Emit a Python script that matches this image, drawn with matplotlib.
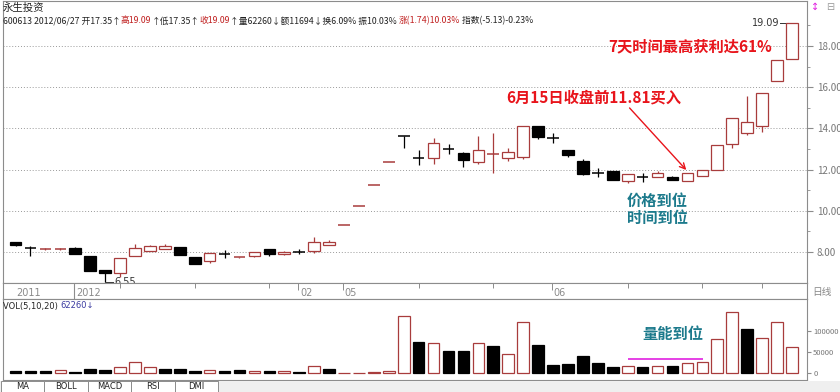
import matplotlib
matplotlib.use('Agg')
import matplotlib.pyplot as plt
from matplotlib.patches import Rectangle
import numpy as np

plt.rcParams['font.family'] = ['Noto Sans CJK SC', 'DejaVu Sans']

# daily candles, 600613 永生投资
opens = [8.48, 8.21, 8.12, 8.13, 8.21, 7.81, 7.11, 6.96, 7.82, 8.05,
         8.15, 8.24, 7.76, 7.58, 7.90, 7.73, 7.79, 8.15, 7.90, 8.01,
         8.06, 8.33, 9.30, 10.23, 11.25, 12.38, 13.62, 12.56, 12.55, 12.99,
         12.81, 12.39, 12.76, 12.55, 12.63, 14.09, 13.56, 12.95, 12.43, 11.86,
         11.93, 11.45, 11.62, 11.66, 11.66, 11.46, 11.70, 11.98, 13.24, 13.76,
         14.12, 16.32, 17.35]
highs = [8.50, 8.30, 8.17, 8.18, 8.22, 7.82, 7.11, 7.69, 8.37, 8.33,
         8.39, 8.26, 7.77, 7.94, 8.10, 7.75, 8.00, 8.16, 8.03, 8.13,
         8.71, 8.58, 9.30, 10.23, 11.25, 12.38, 13.62, 12.95, 13.52, 13.24,
         12.87, 13.63, 13.76, 13.03, 14.12, 14.09, 13.76, 12.95, 12.50, 12.06,
         11.93, 11.78, 11.82, 11.95, 11.68, 11.84, 11.99, 13.19, 14.49, 15.57,
         15.73, 17.32, 19.09]
lows = [8.30, 7.82, 8.10, 8.12, 7.89, 7.07, 6.55, 6.80, 7.80, 8.03,
        8.14, 7.84, 7.42, 7.45, 7.72, 7.70, 7.78, 7.82, 7.84, 7.90,
        7.94, 8.32, 9.30, 10.23, 11.25, 12.38, 13.03, 12.22, 12.27, 12.76,
        12.14, 12.26, 11.82, 12.42, 12.53, 13.47, 13.30, 12.63, 11.72, 11.65,
        11.48, 11.33, 11.41, 11.66, 11.48, 11.44, 11.70, 11.98, 13.03, 13.68,
        13.84, 16.32, 17.35]
closes = [8.33, 8.20, 8.14, 8.15, 7.90, 7.08, 7.00, 7.69, 8.18, 8.31,
          8.29, 7.85, 7.43, 7.94, 7.89, 7.75, 7.99, 7.92, 8.00, 8.00,
          8.47, 8.49, 9.30, 10.23, 11.25, 12.38, 13.60, 12.55, 13.28, 12.98,
          12.47, 12.95, 12.76, 12.86, 14.12, 13.60, 13.55, 12.69, 11.79, 11.85,
          11.50, 11.77, 11.61, 11.85, 11.50, 11.81, 11.98, 13.18, 14.49, 14.33,
          15.73, 17.30, 19.09]
volumes = [5500, 6400, 6400, 8000, 3200, 9500, 8700, 16000, 28000, 16000,
           9500, 9500, 6400, 8000, 6400, 8000, 5600, 6400, 5600, 3200,
           17500, 10300, 1600, 1600, 2400, 5600, 137000, 74000, 71000, 53000,
           52000, 71000, 64000, 45000, 123000, 67000, 20000, 21000, 40000, 25000,
           16000, 18000, 16000, 18000, 18000, 24000, 26000, 82000, 147000, 105000,
           83000, 123000, 62260]
vol_up = [0, 0, 0, 1, 0, 0, 0, 1, 1, 1,
          0, 0, 0, 1, 0, 0, 1, 0, 1, 0,
          1, 0, 1, 1, 1, 1, 1, 0, 1, 0,
          0, 1, 0, 1, 1, 0, 0, 0, 0, 0,
          0, 1, 0, 1, 0, 1, 1, 1, 1, 0,
          1, 1, 1]
date_labels = {0: '2011', 4: '2012', 19: '02', 22: '05', 36: '06'}
date_ticks = [7, 12, 17, 27, 32, 41, 46, 50]
price_ticks = [8, 10, 12, 14, 16, 18]
vol_ticks = [0, 50000, 100000]

W, H = 840, 392
RED = '#a83c3c'
ANN = '#e8141b'
TEAL = '#1c7a8c'
GRID = '#9a9a9a'
FRAME = '#8c8c8c'


def rect(x0, y0, x1, y1):
    # pixel box (top-left origin) -> figure fraction
    return [x0 / W, 1 - y1 / H, (x1 - x0) / W, (y1 - y0) / H]


fig = plt.figure(figsize=(8.4, 3.92), dpi=100)
fig.patch.set_facecolor('white')

n = len(opens)
xs = np.arange(n)
xlim = (-0.84, 53.01)
bw = 0.78

# ---- main price panel
ax = fig.add_axes(rect(3, 1, 807, 283))
ax.set_xlim(*xlim)
ax.set_ylim(6.495, 20.18)
for y in price_ticks:
    ax.axhline(y, color=GRID, lw=0.7, ls=(0, (1, 2)), zorder=0)

for i in xs:
    o, h, l, c = opens[i], highs[i], lows[i], closes[i]
    up = c >= o
    col = RED if up else 'black'
    ax.vlines(i, l, h, color=col, lw=0.9, zorder=2)
    if abs(c - o) < 0.03:
        ax.hlines((o + c) / 2, i - bw / 2, i + bw / 2, color=col, lw=1.1, zorder=3)
    else:
        ax.add_patch(Rectangle((i - bw / 2, min(o, c)), bw, abs(c - o),
                               facecolor='white' if up else 'black',
                               edgecolor=col, lw=0.9, zorder=3))

ax.yaxis.tick_right()
ax.set_yticks(price_ticks)
ax.set_yticklabels(['%.2f' % v for v in price_ticks])
ax.set_yticks([9, 11, 13, 15, 17, 19], minor=True)
ax.tick_params(axis='y', which='both', colors=FRAME, labelcolor='#777777',
               labelsize=7, length=4, pad=3)
ax.tick_params(axis='y', which='minor', length=2)
ax.set_xticks([])
for s in ax.spines.values():
    s.set_color(FRAME)
    s.set_linewidth(0.8)

# low / high labels
ax.plot([6, 6.55], [lows[6], lows[6]], color='#333333', lw=0.7)
ax.text(6.62, lows[6], '6.55', fontsize=7, color='#333333', va='center',
        family='DejaVu Sans')
ax.plot([51.2, 52], [highs[52], highs[52]], color='#333333', lw=0.7)
ax.text(51.15, highs[52], '19.09', fontsize=7, color='#333333', va='center',
        ha='right', family='DejaVu Sans')

# annotations
ax.text(45.2, 18.0, '7天时间最高获利达61%', color=ANN, fontsize=11,
        fontweight='bold', ha='center', va='center')
ax.text(38.75, 15.48, '6月15日收盘前11.81买入', color=ANN, fontsize=11,
        fontweight='bold', ha='center', va='center')
ax.annotate('', xy=(45.05, 11.88), xytext=(41.0, 15.09),
            arrowprops=dict(arrowstyle='->', color=ANN, lw=1.0))
ax.text(43.0, 10.48, '价格到位', color=TEAL, fontsize=11, fontweight='bold',
        ha='center', va='center')
ax.text(43.0, 9.65, '时间到位', color=TEAL, fontsize=11, fontweight='bold',
        ha='center', va='center')

# header inside the price panel
ax.annotate('永生投资', xy=(3, H - 8), xycoords='figure pixels',
            fontsize=7.5, color='#222222', va='center', ha='left')
segments = [
    ('600613 2012/06/27 开17.35↑', '#222222'),
    ('高19.09', '#c02020'),
    ('↑低17.35↑', '#222222'),
    ('收19.09', '#c02020'),
    ('↑量62260↓额11694↓换6.09% 振10.03% ', '#222222'),
    ('涨(1.74)10.03%', '#c02020'),
    (' 指数(-5.13)-0.23%', '#222222'),
]
prev = ax.annotate(segments[0][0], xy=(3, H - 21), xycoords='figure pixels',
                   fontsize=6.3, color=segments[0][1], va='center', ha='left')
for s, c in segments[1:]:
    prev = ax.annotate(s, xy=(1, 0.5), xycoords=prev, fontsize=6.3, color=c,
                       va='center', ha='left')

# ---- date strip
dax = fig.add_axes(rect(3, 283, 807, 299))
dax.set_xlim(*xlim)
dax.set_ylim(0, 1)
dax.set_xticks([])
dax.set_yticks([])
for s in dax.spines.values():
    s.set_color(FRAME)
    s.set_linewidth(0.8)
for i, lab in date_labels.items():
    if i == 4:
        dax.axvline(i - 0.1, color=FRAME, lw=0.8)
    elif i > 4:
        dax.vlines(i - 0.1, 0.55, 1, color=FRAME, lw=0.7)
    dax.text(i + 0.05, 0.4, lab, fontsize=7, color='#8a8a8a', va='center',
             family='DejaVu Sans')
for i in date_ticks:
    dax.vlines(i, 0.7, 1, color=FRAME, lw=0.7)

# ---- volume panel
vax = fig.add_axes(rect(3, 299, 807, 380))
vax.set_xlim(*xlim)
vax.set_ylim(-16000, 176900)
for i in xs:
    up = vol_up[i] == 1
    vax.add_patch(Rectangle((i - bw / 2, 0), bw, volumes[i],
                            facecolor='white' if up else 'black',
                            edgecolor=RED if up else 'black', lw=0.9))
vax.yaxis.tick_right()
vax.set_yticks(vol_ticks)
vax.set_yticklabels([str(v) for v in vol_ticks])
vax.tick_params(axis='y', colors=FRAME, labelcolor='#777777', labelsize=5.5,
                length=3, pad=1.5)
vax.set_xticks([])
for s in vax.spines.values():
    s.set_color(FRAME)
    s.set_linewidth(0.8)
vt = vax.annotate('VOL(5,10,20) ', xy=(3, H - 306), xycoords='figure pixels',
                  fontsize=6, color='#222222', va='center', ha='left',
                  family='DejaVu Sans')
vax.annotate('62260↓', xy=(1, 0.5), xycoords=vt, fontsize=6,
             color='#3a3aa0', va='center', ha='left', family='DejaVu Sans')
vax.hlines(33000, 41.0, 46.05, color='#e020e0', lw=1.2)
vax.text(44.0, 93600, '量能到位', color=TEAL, fontsize=11, fontweight='bold',
         ha='center', va='center')

# ---- right panel bits
fig.text(811 / W, 1 - 7 / H, '↕', color='#e020e0', fontsize=7, va='center',
         family='DejaVu Sans')
fig.text(826 / W, 1 - 7 / H, '⊟', color='#999999', fontsize=7, va='center',
         family='DejaVu Sans')
fig.text(812 / W, 1 - 292 / H, '日线', color='#888888', fontsize=7,
         va='center')

# ---- bottom tabs
fig.patches.append(Rectangle((0, 0), 1, 11 / H, transform=fig.transFigure,
                             facecolor='#efefef', edgecolor='none'))
tabs = ['MA', 'BOLL', 'MACD', 'RSI', 'DMI']
for k, name in enumerate(tabs):
    x0 = 1 + k * 43.4
    fig.patches.append(Rectangle((x0 / W, 0), 43.4 / W, 11 / H,
                                 transform=fig.transFigure, facecolor='white',
                                 edgecolor=FRAME, lw=0.7))
    fig.text((x0 + 21.7) / W, 5.5 / H, name, fontsize=6, ha='center',
             va='center', color='#222222', family='DejaVu Sans')

fig.savefig('out.png', dpi=100)
